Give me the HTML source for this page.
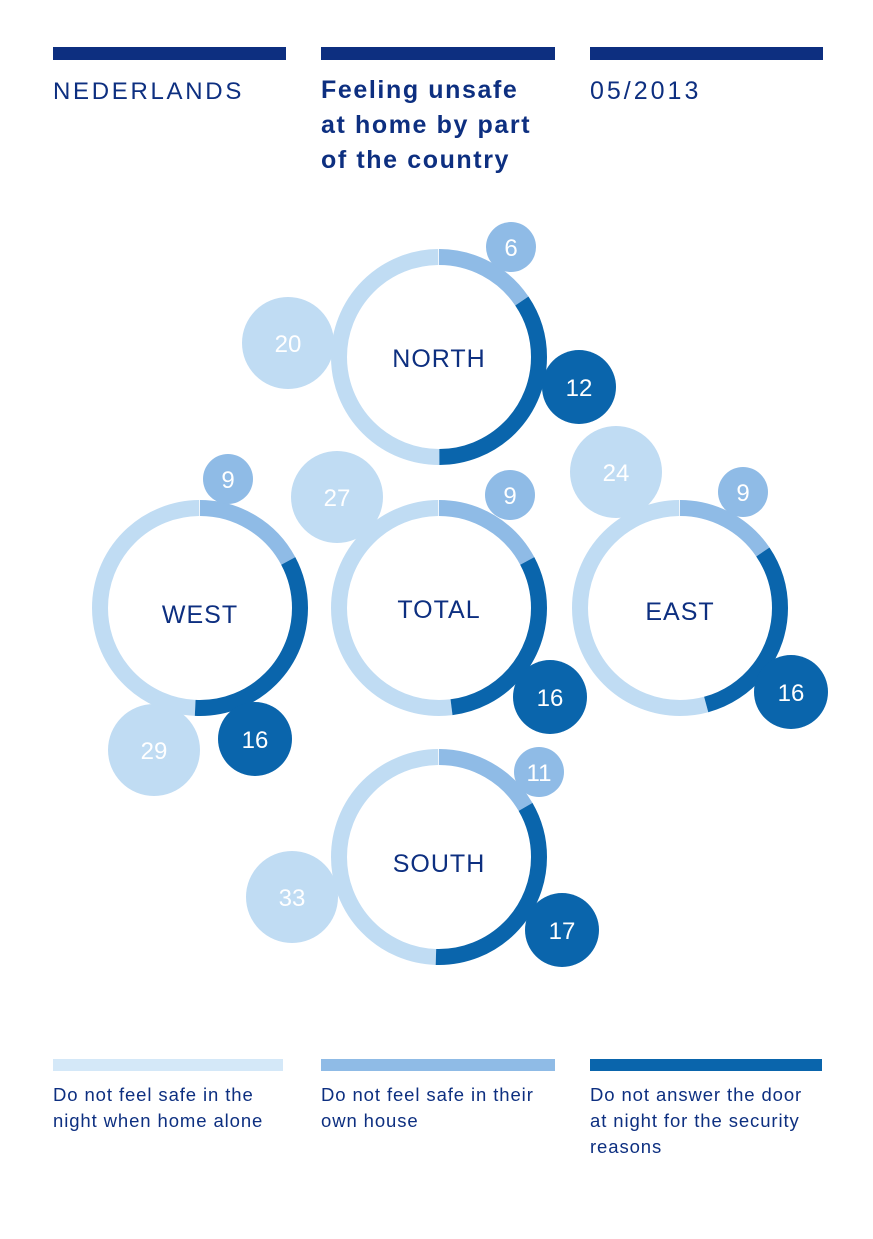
<!DOCTYPE html>
<html><head><meta charset="utf-8"><style>
html,body{margin:0;padding:0;background:#fff;}
body{width:873px;height:1234px;overflow:hidden;}
svg text{font-family:"Liberation Sans",sans-serif;}
</style></head><body>
<svg width="873" height="1234" viewBox="0 0 873 1234" xmlns="http://www.w3.org/2000/svg">
<rect x="53" y="47" width="233" height="13" fill="#0d2f80"/>
<rect x="321" y="47" width="234" height="13" fill="#0d2f80"/>
<rect x="590" y="47" width="233" height="13" fill="#0d2f80"/>
<text x="53" y="99" font-size="24" fill="#0d2f80" letter-spacing="2.7">NEDERLANDS</text>
<g font-size="25" font-weight="bold" fill="#0d2f80" letter-spacing="1.6">
<text x="321" y="98">Feeling unsafe</text>
<text x="321" y="133">at home by part</text>
<text x="321" y="168">of the country</text>
</g>
<text x="590" y="99" font-size="25" fill="#0d2f80" letter-spacing="3">05/2013</text>

<g fill="none" stroke-width="16">
<g transform="translate(439,357) rotate(-90)">
<circle r="100" pathLength="360" stroke="#c0dcf3" stroke-dasharray="0 180 180 360"/>
<circle r="100" pathLength="360" stroke="#8fbbe6" stroke-dasharray="56 360"/>
<circle r="100" pathLength="360" stroke="#0a65ac" stroke-dasharray="0 56 124 360"/>
</g>
<g transform="translate(200,608) rotate(-90)">
<circle r="100" pathLength="360" stroke="#c0dcf3" stroke-dasharray="0 183 177 360"/>
<circle r="100" pathLength="360" stroke="#8fbbe6" stroke-dasharray="62 360"/>
<circle r="100" pathLength="360" stroke="#0a65ac" stroke-dasharray="0 62 121 360"/>
</g>
<g transform="translate(439,608) rotate(-90)">
<circle r="100" pathLength="360" stroke="#c0dcf3" stroke-dasharray="0 173 187 360"/>
<circle r="100" pathLength="360" stroke="#8fbbe6" stroke-dasharray="62 360"/>
<circle r="100" pathLength="360" stroke="#0a65ac" stroke-dasharray="0 62 111 360"/>
</g>
<g transform="translate(680,608) rotate(-90)">
<circle r="100" pathLength="360" stroke="#c0dcf3" stroke-dasharray="0 165 195 360"/>
<circle r="100" pathLength="360" stroke="#8fbbe6" stroke-dasharray="56 360"/>
<circle r="100" pathLength="360" stroke="#0a65ac" stroke-dasharray="0 56 109 360"/>
</g>
<g transform="translate(439,857) rotate(-90)">
<circle r="100" pathLength="360" stroke="#c0dcf3" stroke-dasharray="0 182 178 360"/>
<circle r="100" pathLength="360" stroke="#8fbbe6" stroke-dasharray="60 360"/>
<circle r="100" pathLength="360" stroke="#0a65ac" stroke-dasharray="0 60 122 360"/>
</g>
</g>

<g font-size="25" fill="#0d2f80" text-anchor="middle" letter-spacing="1">
<text x="439" y="367">NORTH</text>
<text x="200" y="623">WEST</text>
<text x="439" y="618">TOTAL</text>
<text x="680" y="620">EAST</text>
<text x="439" y="872">SOUTH</text>
</g>

<g>
<circle cx="511" cy="247" r="25" fill="#8fbbe6"/>
<circle cx="288" cy="343" r="46" fill="#c0dcf3"/>
<circle cx="579" cy="387" r="37" fill="#0a65ac"/>
<circle cx="228" cy="479" r="25" fill="#8fbbe6"/>
<circle cx="154" cy="750" r="46" fill="#c0dcf3"/>
<circle cx="255" cy="739" r="37" fill="#0a65ac"/>
<circle cx="337" cy="497" r="46" fill="#c0dcf3"/>
<circle cx="510" cy="495" r="25" fill="#8fbbe6"/>
<circle cx="550" cy="697" r="37" fill="#0a65ac"/>
<circle cx="616" cy="472" r="46" fill="#c0dcf3"/>
<circle cx="743" cy="492" r="25" fill="#8fbbe6"/>
<circle cx="791" cy="692" r="37" fill="#0a65ac"/>
<circle cx="539" cy="772" r="25" fill="#8fbbe6"/>
<circle cx="292" cy="897" r="46" fill="#c0dcf3"/>
<circle cx="562" cy="930" r="37" fill="#0a65ac"/>
</g>
<g font-size="24" fill="#fff" text-anchor="middle">
<text x="511" y="256">6</text>
<text x="288" y="352">20</text>
<text x="579" y="396">12</text>
<text x="228" y="488">9</text>
<text x="154" y="759">29</text>
<text x="255" y="748">16</text>
<text x="337" y="506">27</text>
<text x="510" y="504">9</text>
<text x="550" y="706">16</text>
<text x="616" y="481">24</text>
<text x="743" y="501">9</text>
<text x="791" y="701">16</text>
<text x="539" y="781">11</text>
<text x="292" y="906">33</text>
<text x="562" y="939">17</text>
</g>

<rect x="53" y="1059" width="230" height="12" fill="#d4e8f8"/>
<rect x="321" y="1059" width="234" height="12" fill="#8fbbe6"/>
<rect x="590" y="1059" width="232" height="12" fill="#0a65ac"/>
<g font-size="18.5" fill="#0d2f80" letter-spacing="0.9">
<text x="53" y="1101">Do not feel safe in the</text>
<text x="53" y="1127">night when home alone</text>
<text x="321" y="1101">Do not feel safe in their</text>
<text x="321" y="1127">own house</text>
<text x="590" y="1101">Do not answer the door</text>
<text x="590" y="1127">at night for the security</text>
<text x="590" y="1153">reasons</text>
</g>
</svg>
</body></html>
